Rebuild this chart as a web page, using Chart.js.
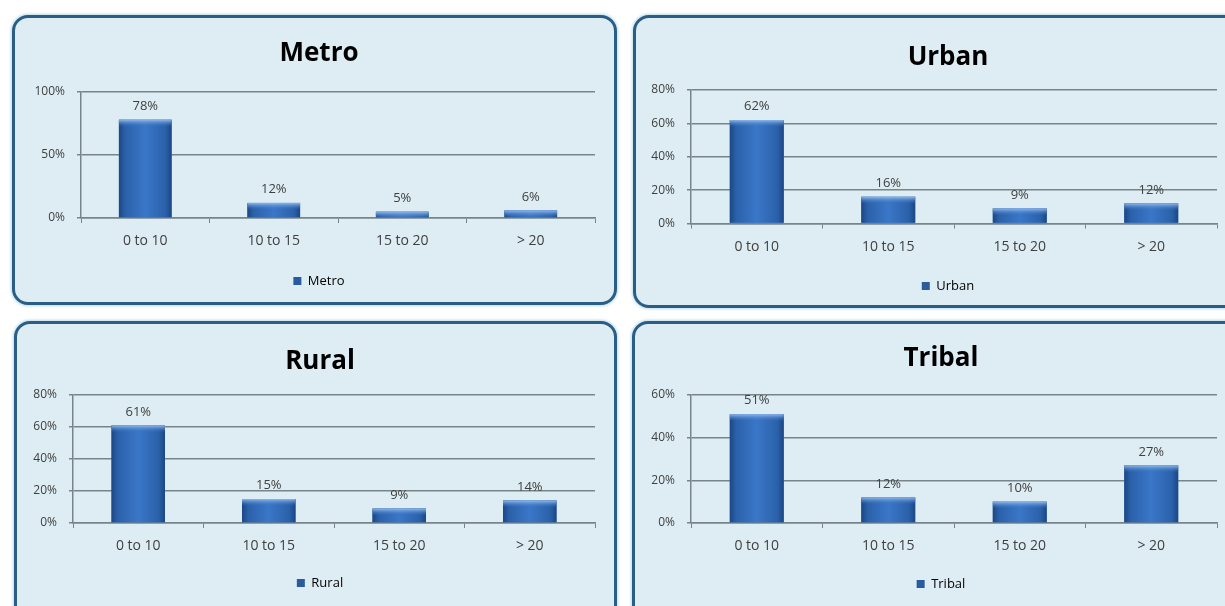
<!DOCTYPE html>
<html>
<head>
<meta charset="utf-8">
<script src="https://cdn.jsdelivr.net/npm/chart.js@4.4.1/dist/chart.umd.min.js"></script>
<style>
  html, body { margin: 0; padding: 0; background: #ffffff; }
  body { width: 1225px; height: 606px; position: relative; overflow: hidden; }
  .panel {
    position: absolute;
    box-sizing: border-box;
    border: 3px solid #2b5e87;
    border-radius: 16px;
    background: #ddedf3;
    box-shadow: 0 0 3px 1px #b9dbe8;
    overflow: hidden;
  }
  .panel canvas { position: absolute; left: 0; top: 0; }
</style>
</head>
<body>
<div class="panel" style="left:12px; top:15px; width:605px; height:290px;"><canvas id="metroChart" width="599" height="284"></canvas></div>
<div class="panel" style="left:633px; top:15px; width:654px; height:293px;"><canvas id="urbanChart" width="648" height="287"></canvas></div>
<div class="panel" style="left:14px; top:321px; width:603px; height:300px;"><canvas id="ruralChart" width="597" height="294"></canvas></div>
<div class="panel" style="left:632px; top:321px; width:626px; height:300px;"><canvas id="tribalChart" width="620" height="294"></canvas></div>

<script>
// Distance (km) bands shared by all four charts
const categories = ["0 to 10", "10 to 15", "15 to 20", "> 20"];

// Share of respondents per band (%)
const metroValues = [78, 12, 5, 6];
const urbanValues = [62, 16, 9, 12];
const ruralValues = [61, 15, 9, 14];
const tribalValues = [51, 12, 10, 27];

// Y axis ticks (%)
const metroTicks = [0, 50, 100];
const urbanTicks = [0, 20, 40, 60, 80];
const ruralTicks = [0, 20, 40, 60, 80];
const tribalTicks = [0, 20, 40, 60];

const FONT = "'Open Sans', 'Liberation Sans', sans-serif";
const GRID = "#77858a";
const TEXT = "#404040";

// ===============================
// Bar shading + value labels
// ===============================
const barDecor = {
    id: "barDecor",
    // let the y tick labels spill into the left padding without being clipped
    afterLayout(chart) {
        chart.scales.y.left = 0;
    },
    afterDatasetsDraw(chart) {
        const ctx = chart.ctx;
        const meta = chart.getDatasetMeta(0);
        const values = chart.data.datasets[0].data;
        ctx.save();
        meta.data.forEach((bar, i) => {
            const w = bar.width;
            const left = bar.x - w / 2;
            const top = bar.y;
            const h = bar.base - bar.y;

            const g = ctx.createLinearGradient(left, 0, left + w, 0);
            g.addColorStop(0, "#1b4784");
            g.addColorStop(0.12, "#2b61aa");
            g.addColorStop(0.5, "#3a77c8");
            g.addColorStop(0.88, "#2b61aa");
            g.addColorStop(1, "#1b4784");
            ctx.fillStyle = g;
            ctx.fillRect(left, top, w, h);

            const hl = ctx.createLinearGradient(0, top, 0, top + 7);
            hl.addColorStop(0, "rgba(150,190,238,0.95)");
            hl.addColorStop(1, "rgba(56,116,196,0)");
            ctx.fillStyle = hl;
            ctx.fillRect(left, top, w, Math.min(7, h));

            ctx.fillStyle = TEXT;
            ctx.font = "13px " + FONT;
            ctx.textAlign = "center";
            ctx.textBaseline = "bottom";
            ctx.fillText(values[i] + "%", bar.x, top - 7);
        });
        ctx.restore();
    }
};

function makeChart(id, name, values, ticks, lay) {
    const step = ticks[1] - ticks[0];
    return new Chart(document.getElementById(id), {
        type: "bar",
        data: {
            labels: categories,
            datasets: [{
                label: name,
                data: values,
                backgroundColor: "#2f68b4",
                borderWidth: 0,
                barPercentage: 0.41,
                categoryPercentage: 1
            }]
        },
        options: {
            responsive: false,
            animation: false,
            layout: {
                padding: { left: lay.padLeft, right: lay.padRight, top: 0, bottom: lay.padBottom }
            },
            plugins: {
                title: {
                    display: true,
                    text: name,
                    color: "#000000",
                    font: { family: FONT, size: 26, weight: "bold", lineHeight: 1.1 },
                    padding: { top: lay.titleTop, bottom: lay.titleBottom }
                },
                legend: {
                    display: true,
                    position: "bottom",
                    labels: {
                        color: TEXT,
                        font: { family: FONT, size: 13 },
                        boxWidth: 8,
                        boxHeight: 8,
                        padding: 10,
                        generateLabels: () => [{
                            text: name,
                            fillStyle: "#2a5b9c",
                            strokeStyle: "#1b4784",
                            lineWidth: 0
                        }]
                    }
                },
                tooltip: { enabled: false }
            },
            scales: {
                x: {
                    afterFit: s => { s.height = lay.xHeight; },
                    grid: {
                        drawOnChartArea: false,
                        drawTicks: true,
                        tickLength: 5,
                        color: GRID,
                        offset: true
                    },
                    border: { color: GRID, width: 1.5 },
                    ticks: {
                        color: TEXT,
                        font: { family: FONT, size: 14 },
                        padding: 10
                    }
                },
                y: {
                    min: 0,
                    max: ticks[ticks.length - 1],
                    afterFit: s => { s.width = lay.yWidth; },
                    afterBuildTicks: s => { s.ticks = ticks.map(v => ({ value: v })); },
                    grid: {
                        color: GRID,
                        lineWidth: 1.5,
                        tickLength: 4
                    },
                    border: { color: GRID, width: 1.5 },
                    ticks: {
                        stepSize: step,
                        color: TEXT,
                        font: { family: FONT, size: 12 },
                        padding: 12,
                        callback: v => v + "%"
                    }
                }
            }
        },
        plugins: [barDecor]
    });
}

makeChart("metroChart", "Metro", metroValues, metroTicks,
    { titleTop: 21.7, titleBottom: 23.7, padLeft: 28, yWidth: 38, xHeight: 46.5, padRight: 19, padBottom: 4.5 });
makeChart("urbanChart", "Urban", urbanValues, urbanTicks,
    { titleTop: 25.7, titleBottom: 17.7, padLeft: 43, yWidth: 12, xHeight: 46, padRight: 67, padBottom: 2.5 });
makeChart("ruralChart", "Rural", ruralValues, ruralTicks,
    { titleTop: 23.7, titleBottom: 18.7, padLeft: 28, yWidth: 28, xHeight: 43.5, padRight: 19, padBottom: 18.5 });
makeChart("tribalChart", "Tribal", tribalValues, tribalTicks,
    { titleTop: 20.7, titleBottom: 21.7, padLeft: 30, yWidth: 26, xHeight: 44.5, padRight: 38, padBottom: 17.5 });
</script>
</body>
</html>
